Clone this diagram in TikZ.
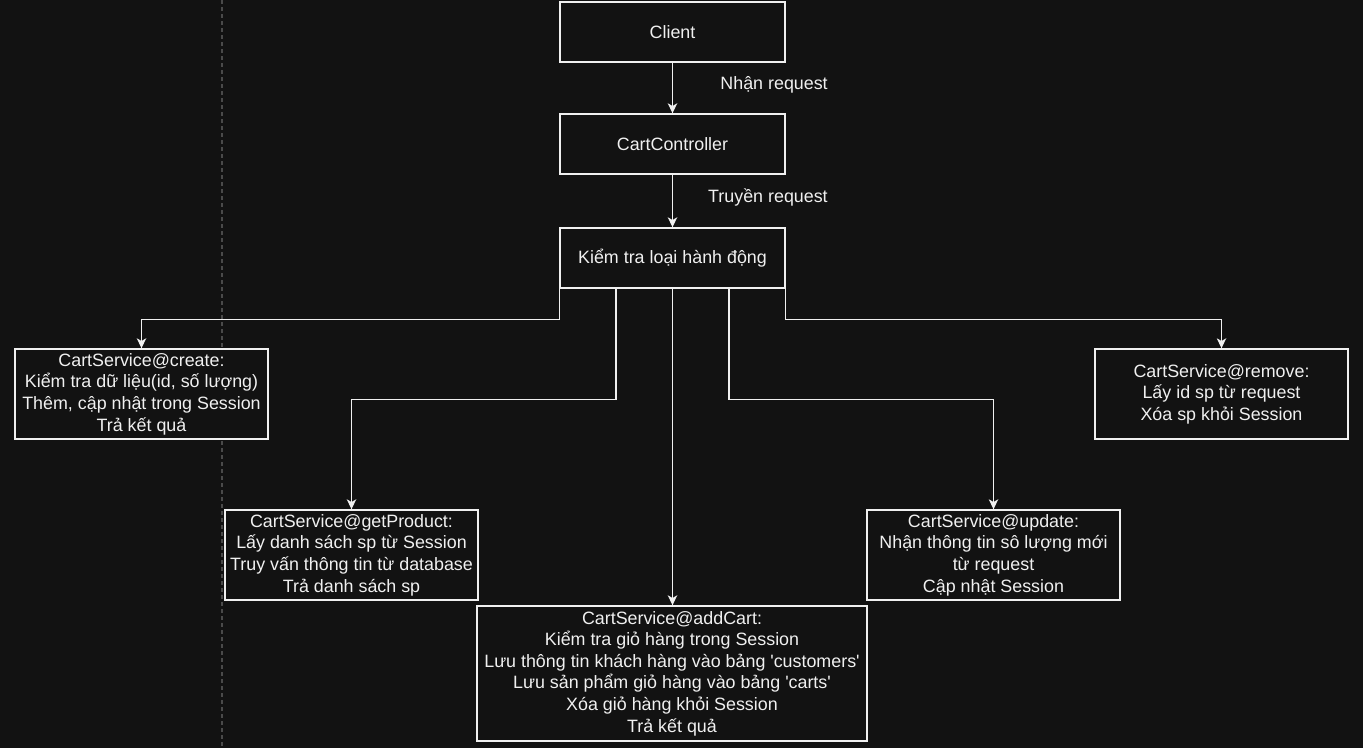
\documentclass[tikz,border=0pt]{standalone}
\usepackage{fontspec}
\setmainfont[Ligatures=TeXOff]{Liberation Sans}
\usetikzlibrary{positioning, arrows.meta, calc}
\definecolor{DarkBg}{HTML}{121212}
\definecolor{InkWhite}{HTML}{F0F0F0}
\definecolor{GuideGray}{HTML}{4A4A4A}

\begin{document}
\begin{tikzpicture}[x=0.75pt, y=-0.75pt, font=\fontsize{13.4}{16.2}\selectfont,
    box/.style={draw=InkWhite, fill=DarkBg, text=InkWhite, line width=1pt, align=center, inner sep=0pt},
    pxsize/.style 2 args={minimum width=#1*0.75pt, minimum height=#2*0.75pt},
    arr/.style={draw=InkWhite, line width=1pt, -{Stealth[length=7.5pt, width=7pt, inset=2pt]}},
    lbl/.style={text=InkWhite, anchor=east, inner sep=0pt}]
    \fill[DarkBg] (0,0) rectangle (1363,748);
    \useasboundingbox (0,0) rectangle (1363,748);
    \draw[GuideGray, line width=1pt, dash pattern=on 3pt off 2.25pt] (222,0) -- (222,748);

    \node[box, pxsize={225}{60}] (client) at (672.5,32) {Client};
    \node[box, pxsize={225}{60}] (ctrl) at (672.5,144) {CartController};
    \node[box, pxsize={225}{60}] (check) at (672.5,258) {Kiểm tra loại hành động};
    \node[box, pxsize={253}{90}] (create) at (141.5,394) {CartService@create:\\Kiểm tra dữ liệu(id, số lượng)\\Thêm, cập nhật trong Session\\Trả kết quả};
    \node[box, pxsize={253}{90}] (getprod) at (351.5,555) {CartService@getProduct:\\Lấy danh sách sp từ Session\\Truy vấn thông tin từ database\\Trả danh sách sp};
    \node[box, pxsize={390}{135}] (addcart) at (672,673.5) {CartService@addCart:\\Kiểm tra giỏ hàng trong Session\\Lưu thông tin khách hàng vào bảng 'customers'\\Lưu sản phẩm giỏ hàng vào bảng 'carts'\\Xóa giỏ hàng khỏi Session\\Trả kết quả};
    \node[box, pxsize={253}{90}] (update) at (993.5,555) {CartService@update:\\Nhận thông tin sô lượng mới\\từ request\\Cập nhật Session};
    \node[box, pxsize={253}{90}] (remove) at (1221.5,394) {CartService@remove:\\Lấy id sp từ request\\Xóa sp khỏi Session};

    \node[lbl] (recvlbl) at (828,85) {Nhận request};
    \node[lbl] (passlbl) at (828,197) {Truyền request};

    \draw[arr] (client) -- (ctrl);
    \draw[arr] (ctrl) -- (check);
    \draw[arr] (check.south west) -- ++(0,31) -| (create.north);
    \draw[arr] ($(check.south west)!.25!(check.south east)$) -- ++(0,111) -| (getprod.north);
    \draw[arr] (check.south) -- (check.south |- addcart.north);
    \draw[arr] ($(check.south west)!.75!(check.south east)$) -- ++(0,111) -| (update.north);
    \draw[arr] (check.south east) -- ++(0,31) -| (remove.north);
\end{tikzpicture}
\end{document}
